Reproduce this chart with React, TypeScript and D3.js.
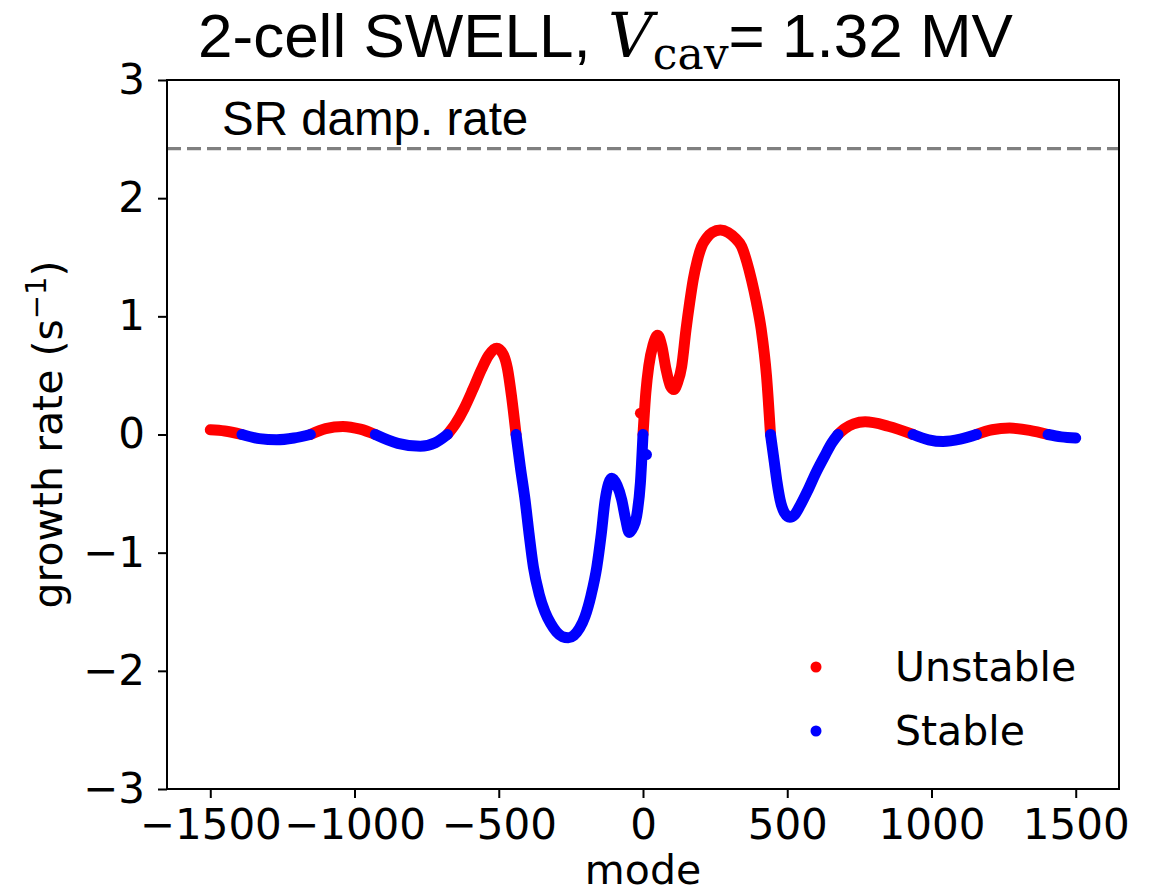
import React, { useEffect, useRef } from 'react';
import * as d3 from 'd3';

// ---- data ----
const modes = [
  -1500, -1450, -1390, -1330, -1270, -1210, -1153, -1100, -1040, -980, -928, -850, -772, -720, -678,
  -650, -620, -590, -560, -535, -507, -485, -470, -455, -440, -425, -409, -395, -380, -360, -340, -320,
  -300, -280, -259, -240, -220, -201, -180, -160, -145, -131, -108, -90, -74, -60, -48, -35, -22, -9, 0,
  10, 20, 35, 51, 65, 80, 95, 107, 120, 134, 149, 162, 174, 188, 203, 220, 240, 268, 295, 320, 342, 360,
  376, 393, 410, 428, 442, 455, 465, 475, 490, 509, 525, 545, 570, 600, 630, 655, 676, 700, 730, 770, 850,
  936, 990, 1040, 1100, 1156, 1210, 1271, 1340, 1404, 1450, 1500,
];
const rates = [
  0.04, 0.03, 0.0, -0.035, -0.045, -0.03, 0.0, 0.05, 0.068, 0.045, 0.0, -0.075, -0.1, -0.07, 0.0,
  0.09, 0.22, 0.38, 0.55, 0.67, 0.73, 0.68, 0.56, 0.31, 0.0, -0.28, -0.55, -0.84, -1.12, -1.35, -1.5, -1.6,
  -1.67, -1.71, -1.72, -1.7, -1.64, -1.54, -1.36, -1.12, -0.85, -0.55, -0.37, -0.43, -0.55, -0.72, -0.83, -0.79, -0.69, -0.41, 0.0,
  0.36, 0.58, 0.76, 0.84, 0.75, 0.55, 0.41, 0.38, 0.44, 0.575, 0.886, 1.12, 1.31, 1.47, 1.59, 1.66, 1.71, 1.73, 1.71, 1.66, 1.59, 1.46,
  1.31, 1.12, 0.886, 0.5, 0.0, -0.23, -0.41, -0.55, -0.66, -0.7, -0.68, -0.6, -0.48, -0.32, -0.18, -0.07, 0.0, 0.05, 0.09, 0.107, 0.07,
  0.0, -0.045, -0.06, -0.04, 0.0, 0.04, 0.054, 0.035, 0.0, -0.02, -0.03,
];
const outlierModes = [-9, 12];
const outlierRates = [0.18, -0.17];
const xTicks = [-1500, -1000, -500, 0, 500, 1000, 1500];
const yTicks = [-3, -2, -1, 0, 1, 2, 3];
const srDampRate = 2.42;
const legendLabels = ['Unstable', 'Stable'];
const colors = ['#ff0000', '#0000ff'];

const W = 1156;
const H = 895;
const M = { left: 167, right: 1119, top: 80, bottom: 789 };
const SANS = 'DejaVu Sans';
const ARIAL = 'Liberation Sans, Arial, sans-serif';
const SERIF = 'DejaVu Serif, serif';

export default function App() {
  const ref = useRef<SVGSVGElement>(null);

  useEffect(() => {
    const svg = d3.select(ref.current);
    svg.selectAll('*').remove();

    const x = d3.scaleLinear().domain([-1650, 1650]).range([M.left, M.right]);
    const y = d3.scaleLinear().domain([-3, 3]).range([M.bottom, M.top]);

    svg.append('rect').attr('width', W).attr('height', H).attr('fill', 'white');

    // dashed SR damping line
    svg.append('line')
      .attr('x1', M.left).attr('x2', M.right)
      .attr('y1', y(srDampRate)).attr('y2', y(srDampRate))
      .attr('stroke', '#808080').attr('stroke-width', 3.3)
      .attr('stroke-dasharray', '14 6');

    svg.append('text')
      .attr('x', 222).attr('y', 135)
      .attr('font-family', ARIAL).attr('font-size', 47.5)
      .text('SR damp. rate');

    // curve split by sign
    const pts: [number, number][] = modes.map((m, i) => [m, rates[i]]);
    const runs = (pos: boolean) => {
      const out: [number, number][][] = [];
      let cur: [number, number][] = [];
      for (const p of pts) {
        const ok = pos ? p[1] >= 0 : p[1] <= 0;
        if (ok) cur.push(p);
        else {
          if (cur.length > 1) out.push(cur);
          cur = [];
        }
      }
      if (cur.length > 1) out.push(cur);
      return out;
    };
    const line = d3.line<[number, number]>()
      .x((d) => x(d[0]))
      .y((d) => y(d[1]))
      .curve(d3.curveMonotoneX);

    const layers: [boolean, string][] = [[true, colors[0]], [false, colors[1]]];
    layers.forEach(([pos, col]) => {
      const g = svg.append('g');
      runs(pos).forEach((r) => {
        g.append('path')
          .attr('d', line(r) as string)
          .attr('fill', 'none')
          .attr('stroke', col)
          .attr('stroke-width', 11)
          .attr('stroke-linecap', 'round')
          .attr('stroke-linejoin', 'round');
      });
      outlierModes.forEach((m, i) => {
        const v = outlierRates[i];
        if ((pos && v > 0) || (!pos && v < 0)) {
          g.append('circle').attr('cx', x(m)).attr('cy', y(v)).attr('r', 5.5).attr('fill', col);
        }
      });
    });

    // axes
    const fmt = d3.format('d');
    const xAxis = svg.append('g')
      .attr('transform', `translate(0,${M.bottom})`)
      .call(d3.axisBottom(x).tickValues(xTicks).tickFormat(fmt as any).tickSize(9).tickPadding(11).tickSizeOuter(0));
    const yAxis = svg.append('g')
      .attr('transform', `translate(${M.left},0)`)
      .call(d3.axisLeft(y).tickValues(yTicks).tickFormat(fmt as any).tickSize(9).tickPadding(13).tickSizeOuter(0));
    [xAxis, yAxis].forEach((a) => {
      a.attr('font-family', SANS).attr('font-size', 42);
      a.select('.domain').remove();
      a.selectAll('.tick line').attr('stroke', 'black').attr('stroke-width', 2);
      a.selectAll('.tick text').attr('fill', 'black');
    });

    // spines
    svg.append('rect')
      .attr('x', M.left).attr('y', M.top)
      .attr('width', M.right - M.left).attr('height', M.bottom - M.top)
      .attr('fill', 'none').attr('stroke', 'black').attr('stroke-width', 2);

    // axis labels
    svg.append('text')
      .attr('x', (M.left + M.right) / 2).attr('y', 884)
      .attr('text-anchor', 'middle')
      .attr('font-family', SANS).attr('font-size', 41)
      .text('mode');

    const yl = svg.append('text')
      .attr('transform', `translate(62,${(M.top + M.bottom) / 2}) rotate(-90)`)
      .attr('text-anchor', 'middle')
      .attr('font-family', SANS).attr('font-size', 41);
    yl.append('tspan').text('growth rate (s');
    yl.append('tspan').attr('font-size', 29).attr('dy', -16).text('\u22121');
    yl.append('tspan').attr('dy', 16).text(')');

    // title
    const t = svg.append('text')
      .attr('x', 198).attr('y', 57)
      .attr('font-family', ARIAL).attr('font-size', 62);
    t.append('tspan').text('2-cell SWELL, ');
    t.append('tspan').attr('font-family', SERIF).attr('font-style', 'italic').text('V');
    t.append('tspan').attr('font-family', SERIF).attr('font-size', 44).attr('dy', 12).text('cav');
    t.append('tspan').attr('dy', -12).text('= 1.32 MV');

    // legend
    legendLabels.forEach((lab, i) => {
      const cy = 667 + i * 64;
      svg.append('circle').attr('cx', 816).attr('cy', cy).attr('r', 5.5).attr('fill', colors[i]);
      svg.append('text')
        .attr('x', 895).attr('y', cy + 14)
        .attr('font-family', SANS).attr('font-size', 41)
        .text(lab);
    });
  }, []);

  return (
    <svg
      ref={ref}
      width={W}
      height={H}
      style={{ position: 'absolute', left: 0, top: 0, display: 'block' }}
    />
  );
}
